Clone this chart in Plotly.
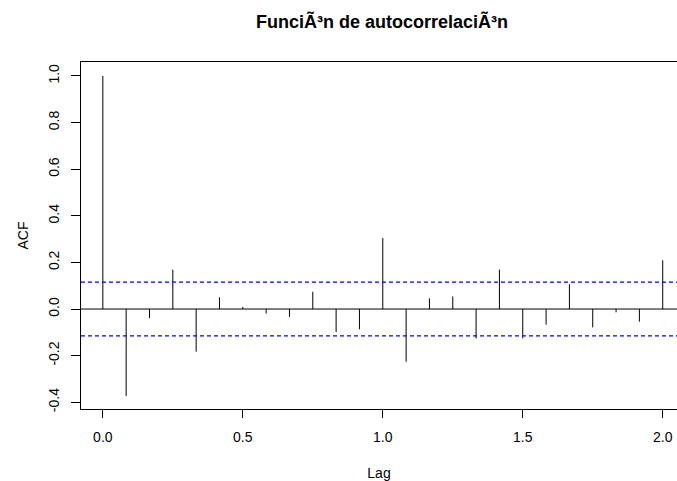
import plotly.graph_objects as go

lags = [i / 12 for i in range(25)]
acf_values = [1.0, -0.373, -0.039, 0.169, -0.183, 0.050, 0.009, -0.019, -0.034,
              0.074, -0.099, -0.087, 0.305, -0.226, 0.046, 0.054, -0.126, 0.169,
              -0.126, -0.067, 0.106, -0.079, -0.014, -0.054, 0.209]
conf_limit = 0.1155
x_ticks = [0.0, 0.5, 1.0, 1.5, 2.0]
x_tick_labels = ["0.0", "0.5", "1.0", "1.5", "2.0"]
y_ticks = [-0.4, -0.2, 0.0, 0.2, 0.4, 0.6, 0.8, 1.0]
y_tick_labels = ["-0.4", "-0.2", "0.0", "0.2", "0.4", "0.6", "0.8", "1.0"]

xs, ys = [], []
for lag, v in zip(lags, acf_values):
    xs += [lag, lag, None]
    ys += [0, v, None]

fig = go.Figure()
fig.add_trace(go.Scatter(x=xs, y=ys, mode="lines",
                         line=dict(color="black", width=1), hoverinfo="skip",
                         showlegend=False))
fig.add_hline(y=0, line=dict(color="black", width=1))
for c in (conf_limit, -conf_limit):
    fig.add_hline(y=c, line=dict(color="#0000ff", width=1.2, dash="4px,3px"))

font = "Liberation Sans, Arial, sans-serif"
fig.update_layout(
    width=677, height=481,
    margin=dict(l=81, r=0, t=62, b=72),
    paper_bgcolor="white", plot_bgcolor="white",
    font=dict(family=font, size=14, color="black"),
    title=dict(text="<b>FunciÃ³n de autocorrelaciÃ³n</b>", x=382 / 677, xanchor="center",
               y=1 - 22 / 481, yanchor="middle", font=dict(size=18, family=font),
               automargin=False),
    xaxis=dict(range=[-0.078, 2.051], tickvals=x_ticks, ticktext=x_tick_labels,
               showgrid=False, zeroline=False, showline=True, mirror=True,
               linecolor="black", linewidth=1, ticks="outside", ticklen=8,
               tickcolor="black", automargin=False, ticklabelstandoff=7,
               title=dict(text="Lag", standoff=24, font=dict(size=14))),
    yaxis=dict(range=[-0.429, 1.06], tickvals=y_ticks, ticktext=y_tick_labels,
               tickangle=-90, automargin=False, ticklabelstandoff=6,
               showgrid=False, zeroline=False, showline=True, mirror=False,
               linecolor="black", linewidth=1, ticks="outside", ticklen=9,
               tickcolor="black",
               title=dict(text="ACF", standoff=14, font=dict(size=14))),
)

fig.write_html("out.html", config={"displayModeBar": False},
               post_script="document.body.style.margin='0px';document.body.style.padding='0px';")
